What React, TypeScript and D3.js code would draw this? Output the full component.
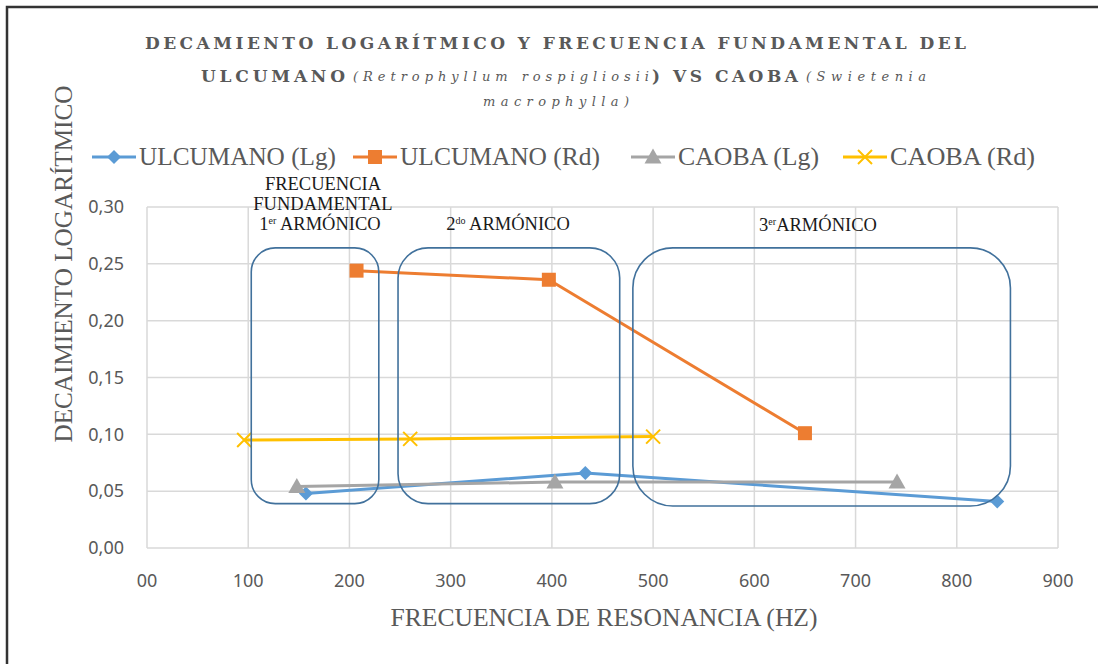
import React from "react";
import * as d3 from "d3";

const xTicks = [0, 100, 200, 300, 400, 500, 600, 700, 800, 900];
const xTickLabels = ["00", "100", "200", "300", "400", "500", "600", "700", "800", "900"];
const yTicks = [0, 0.05, 0.1, 0.15, 0.2, 0.25, 0.3];

const ulcumanoLgX = [157, 433, 840];
const ulcumanoLgY = [0.048, 0.066, 0.041];
const ulcumanoRdX = [207, 397, 650];
const ulcumanoRdY = [0.244, 0.236, 0.101];
const caobaLgX = [148, 403, 741];
const caobaLgY = [0.054, 0.058, 0.058];
const caobaRdX = [96, 260, 500];
const caobaRdY = [0.095, 0.096, 0.098];

const seriesNames = ["ULCUMANO (Lg)", "ULCUMANO (Rd)", "CAOBA (Lg)", "CAOBA (Rd)"];

// harmonic regions (x in Hz, y in decay units)
const boxX0 = [103, 248, 480];
const boxX1 = [229, 467, 853];
const boxYTop = [0.264, 0.264, 0.264];
const boxYBot = [0.039, 0.039, 0.037];

const W = 1098;
const H = 664;

type Series = { name: string; xs: number[]; ys: number[]; color: string; marker: string };

const series: Series[] = [
  { name: seriesNames[0], xs: ulcumanoLgX, ys: ulcumanoLgY, color: "#5B9BD5", marker: "diamond" },
  { name: seriesNames[1], xs: ulcumanoRdX, ys: ulcumanoRdY, color: "#ED7D31", marker: "square" },
  { name: seriesNames[2], xs: caobaLgX, ys: caobaLgY, color: "#A5A5A5", marker: "triangle" },
  { name: seriesNames[3], xs: caobaRdX, ys: caobaRdY, color: "#FFC000", marker: "x" },
];

function Marker({ type, x, y, color }: { type: string; x: number; y: number; color: string }) {
  if (type === "diamond") {
    const s = 7;
    return <path d={`M${x},${y - s}L${x + s},${y}L${x},${y + s}L${x - s},${y}Z`} fill={color} />;
  }
  if (type === "square") {
    const s = 7;
    return <rect x={x - s} y={y - s} width={2 * s} height={2 * s} fill={color} />;
  }
  if (type === "triangle") {
    const s = 8.5;
    return <path d={`M${x},${y - s}L${x + s},${y + s * 0.75}L${x - s},${y + s * 0.75}Z`} fill={color} />;
  }
  const s = 7;
  return (
    <path
      d={`M${x - s},${y - s}L${x + s},${y + s}M${x - s},${y + s}L${x + s},${y - s}`}
      stroke={color}
      strokeWidth={2}
      fill="none"
    />
  );
}

export default function App() {
  const x = d3.scaleLinear().domain([0, 900]).range([147, 1058]);
  const y = d3.scaleLinear().domain([0, 0.3]).range([548, 207]);
  const line = d3
    .line<[number, number]>()
    .x((d) => x(d[0]))
    .y((d) => y(d[1]));
  const fmt = (v: number) => d3.format(".2f")(v).replace(".", ",");

  const legendX = [92, 353, 631, 843];
  const legendTextW = [197, 200, 141, 145];
  const legendY = 157;

  const titleFont = "'DejaVu Serif', serif";

  return (
    <svg
      width={W}
      height={H}
      style={{ position: "absolute", left: 0, top: 0, background: "#fff" }}
    >
      <rect x={0} y={0} width={W} height={H} fill="#fff" />
      {/* frame */}
      <path d={`M7,${H}L7,7L${W},7`} stroke="#333" strokeWidth={2.5} fill="none" />

      {/* title */}
      <g fill="#595959" fontFamily={titleFont}>
        <text x={145} y={49} fontSize={17} fontWeight="bold" textLength={821} lengthAdjust="spacing">
          DECAMIENTO LOGARÍTMICO Y FRECUENCIA FUNDAMENTAL DEL
        </text>
        <text x={201} y={82} fontSize={17} fontWeight="bold" textLength={144} lengthAdjust="spacing">
          ULCUMANO
        </text>
        <text x={353} y={81} fontSize={13} fontStyle="italic" textLength={296} lengthAdjust="spacing">
          (Retrophyllum rospigliosii
        </text>
        <text x={652} y={82} fontSize={17} fontWeight="bold" textLength={146} lengthAdjust="spacing">
          ) VS CAOBA
        </text>
        <text x={806} y={81} fontSize={13} fontStyle="italic" textLength={120} lengthAdjust="spacing">
          (Swietenia
        </text>
        <text x={483} y={106} fontSize={13} fontStyle="italic" textLength={146} lengthAdjust="spacing">
          macrophylla)
        </text>
      </g>

      {/* legend */}
      <g fontFamily="'Liberation Serif', serif" fontSize={25} fill="#595959">
        {series.map((s, i) => (
          <g key={s.name}>
            <line x1={legendX[i]} x2={legendX[i] + 44} y1={legendY} y2={legendY} stroke={s.color} strokeWidth={3} />
            <Marker type={s.marker} x={legendX[i] + 22} y={legendY} color={s.color} />
            <text
              x={legendX[i] + 47}
              y={legendY + 8}
              textLength={legendTextW[i]}
              lengthAdjust="spacingAndGlyphs"
            >
              {s.name}
            </text>
          </g>
        ))}
      </g>

      {/* gridlines */}
      <g stroke="#D9D9D9" strokeWidth={1.5}>
        {yTicks.map((t) => (
          <line key={"gy" + t} x1={x(0)} x2={x(900)} y1={y(t)} y2={y(t)} />
        ))}
        {xTicks.map((t) => (
          <line key={"gx" + t} x1={x(t)} x2={x(t)} y1={y(0)} y2={y(0.3)} />
        ))}
      </g>

      {/* tick labels */}
      <g fontFamily="'Noto Sans', sans-serif" fontSize={18} fill="#595959">
        {yTicks.map((t) => (
          <text key={"ly" + t} x={124} y={y(t)} dy="0.35em" textAnchor="end">
            {fmt(t)}
          </text>
        ))}
        {xTicks.map((t, i) => (
          <text key={"lx" + t} x={x(t)} y={581} dy="0.35em" textAnchor="middle">
            {xTickLabels[i]}
          </text>
        ))}
      </g>

      {/* axis titles */}
      <g fontFamily="'Liberation Serif', serif" fontSize={26} fill="#595959">
        <text
          x={0}
          y={0}
          transform={`translate(72,264) rotate(-90)`}
          textAnchor="middle"
          textLength={357}
          lengthAdjust="spacingAndGlyphs"
        >
          DECAIMIENTO LOGARÍTMICO
        </text>
        <text x={604} y={626} textAnchor="middle" textLength={427} lengthAdjust="spacingAndGlyphs">
          FRECUENCIA DE RESONANCIA (HZ)
        </text>
      </g>

      {/* series */}
      {series.map((s) => {
        const pts = s.xs.map((v, i) => [v, s.ys[i]] as [number, number]);
        return (
          <g key={"s" + s.name}>
            <path d={line(pts) || ""} stroke={s.color} strokeWidth={3} fill="none" strokeLinejoin="round" />
            {pts.map((p, i) => (
              <Marker key={i} type={s.marker} x={x(p[0])} y={y(p[1])} color={s.color} />
            ))}
          </g>
        );
      })}

      {/* harmonic boxes */}
      {boxX0.map((b, i) => {
        const x0 = x(b);
        const x1 = x(boxX1[i]);
        const y0 = y(boxYTop[i]);
        const y1 = y(boxYBot[i]);
        const r = [24, 30, 40][i];
        return (
          <rect
            key={"box" + i}
            x={x0}
            y={y0}
            width={x1 - x0}
            height={y1 - y0}
            rx={r}
            ry={r}
            fill="none"
            stroke="#41719C"
            strokeWidth={1.6}
          />
        );
      })}

      {/* harmonic labels */}
      <g fontFamily="'Liberation Serif', serif" fontSize={18.5} fill="#1a1a1a" textAnchor="middle">
        <text x={323} y={190}>FRECUENCIA</text>
        <text x={323} y={210}>FUNDAMENTAL</text>
        <text x={320} y={230}>
          1<tspan fontSize={10} dy={-6}>er</tspan>
          <tspan dy={6}> ARMÓNICO</tspan>
        </text>
        <text x={508} y={230}>
          2<tspan fontSize={10} dy={-6}>do</tspan>
          <tspan dy={6}> ARMÓNICO</tspan>
        </text>
        <text x={818} y={231}>
          3<tspan fontSize={10} dy={-6}>er</tspan>
          <tspan dy={6}>ARMÓNICO</tspan>
        </text>
      </g>
    </svg>
  );
}
